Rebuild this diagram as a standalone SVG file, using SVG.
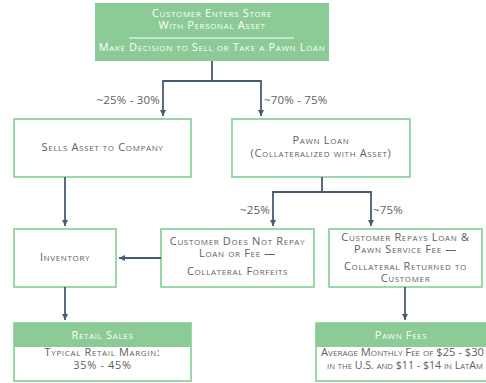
<svg xmlns="http://www.w3.org/2000/svg" width="486" height="383" viewBox="0 0 486 383">
<defs>
<marker id="ah" viewBox="0 0 10 10" refX="10" refY="5" markerWidth="6" markerHeight="6" markerUnits="userSpaceOnUse" orient="auto">
<path d="M0,0 L10,5 L0,10 z" fill="#4b5a73"/>
</marker>
<style>
text{font-family:"Open Sans","Liberation Sans",sans-serif;font-variant:small-caps;text-anchor:middle;font-size:11px;letter-spacing:0.65px;fill:#606060}
.w{fill:#ffffff}
.s{text-anchor:start;letter-spacing:0}
.lbl{font-variant:normal;font-size:11.5px;letter-spacing:0.2px;fill:#5f5f5f}
.box{fill:#ffffff;stroke:#8fd3a0;stroke-width:1.8}
.hdr{fill:#8cca96}
.c{fill:none;stroke:#4b5a73;stroke-width:1.8}
</style>
</defs>
<rect width="486" height="383" fill="#ffffff"/>
<g id="start">
<rect x="95" y="3" width="234" height="58" class="hdr"/>
<text class="w" x="212" y="17">Customer Enters Store</text>
<text class="w" x="212" y="29">With Personal Asset</text>
<line x1="129" y1="38" x2="294" y2="38" stroke="#ffffff" stroke-width="1"/>
<text class="w" x="212" y="51">Make Decision to Sell or Take a Pawn Loan</text>
</g>
<g id="sells">
<rect x="14" y="119" width="177" height="58" class="box"/>
<text x="102.5" y="151">Sells Asset to Company</text>
</g>
<g id="pawn">
<rect x="232" y="119" width="178" height="58" class="box"/>
<text x="321" y="144">Pawn Loan</text>
<text x="321" y="157">(Collateralized with Asset)</text>
</g>
<g id="inventory">
<rect x="14" y="229" width="102" height="58" class="box"/>
<text x="65" y="261">Inventory</text>
</g>
<g id="norepay">
<rect x="161" y="229" width="153" height="58" class="box"/>
<text x="237.5" y="245">Customer Does Not Repay</text>
<text x="237.5" y="257">Loan or Fee —</text>
<text x="237.5" y="275">Collateral Forfeits</text>
</g>
<g id="repay">
<rect x="329" y="229" width="153" height="58" class="box"/>
<text x="405.5" y="241">Customer Repays Loan &amp;</text>
<text x="405.5" y="253">Pawn Service Fee —</text>
<text x="405.5" y="270">Collateral Returned to</text>
<text x="405.5" y="282">Customer</text>
</g>
<g id="retail">
<rect x="14" y="323" width="177" height="58" class="box"/>
<rect x="14" y="323" width="177" height="24" class="hdr"/>
<text class="w" x="102.5" y="339">Retail Sales</text>
<text x="102.5" y="356">Typical Retail Margin:</text>
<text x="102.5" y="369">35% - 45%</text>
</g>
<g id="fees">
<rect x="316" y="323" width="172" height="58" class="box"/>
<rect x="316" y="323" width="172" height="24" class="hdr"/>
<text class="w" x="401" y="339">Pawn Fees</text>
<text class="s" x="321" y="356" textLength="163" lengthAdjust="spacingAndGlyphs">Average Monthly Fee of $25 - $30</text>
<text class="s" x="327" y="369" textLength="156" lengthAdjust="spacingAndGlyphs">in the U.S. and $11 - $14 in LatAm</text>
</g>
<g id="connectors">
<path class="c" d="M212,61 V81 H163 V116" marker-end="url(#ah)"/>
<path class="c" d="M212,81 H261 V116" marker-end="url(#ah)"/>
<text class="lbl" x="160" y="104" style="text-anchor:end">~25% - 30%</text>
<text class="lbl" x="264" y="104" style="text-anchor:start">~70% - 75%</text>
<path class="c" d="M65,177 V226" marker-end="url(#ah)"/>
<path class="c" d="M322,177 V192 H273 V226" marker-end="url(#ah)"/>
<path class="c" d="M322,192 H371 V226" marker-end="url(#ah)"/>
<text class="lbl" x="270" y="214" style="text-anchor:end">~25%</text>
<text class="lbl" x="373" y="214" style="text-anchor:start">~75%</text>
<path class="c" d="M161,258 H119" marker-end="url(#ah)"/>
<path class="c" d="M65,287 V320" marker-end="url(#ah)"/>
<path class="c" d="M405,287 V320" marker-end="url(#ah)"/>
</g>
</svg>
